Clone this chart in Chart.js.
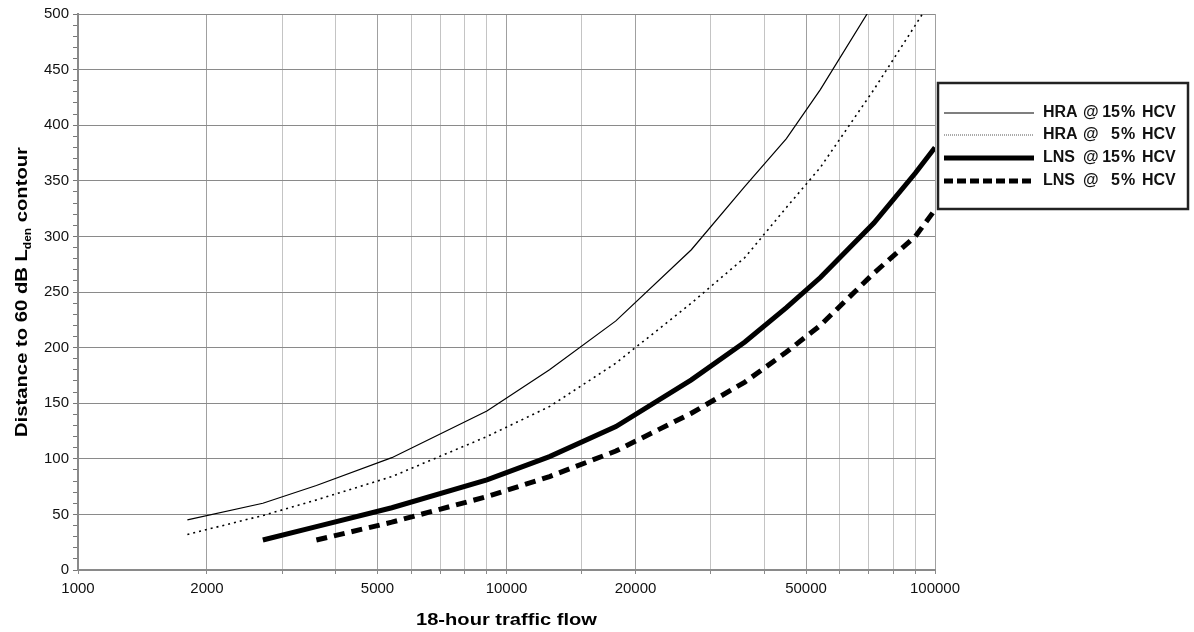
<!DOCTYPE html>
<html>
<head>
<meta charset="utf-8">
<script src="https://cdn.jsdelivr.net/npm/chart.js@4"></script>
<style>
  html, body { margin: 0; padding: 0; background: #fff; }
  #wrap { position: relative; width: 1194px; height: 632px; }
</style>
</head>
<body>
<div id="wrap"><canvas id="chart" width="1194" height="632"></canvas></div>
<script>
// 18-hour traffic flow vs distance to 60 dB Lden contour

const flows = [1800, 2700, 3600, 5400, 9000, 12600, 18000, 27000, 36000, 45000, 54000, 72000, 90000, 100000];

const hra15 = [45, 60, 76, 101, 143, 180, 224, 288, 345, 388, 432, 510, null, null];
const hra5  = [32, 49, 63, 84, 120, 147, 186, 240, 281, 326, 362, 432, 490, 518];
const lns15 = [null, 27, 39, 56, 81, 102, 129, 171, 205, 236, 263, 312, 357, 380];
const lns5  = [null, null, 27, 43, 66, 84, 107, 141, 169, 196, 220, 267, 300, 324];

const seriesNames = ['HRA', 'HRA', 'LNS', 'LNS'];
const seriesPct = ['15', '5', '15', '5'];

const xLabelTicks = [1000, 2000, 5000, 10000, 20000, 50000, 100000];
const yMajorStep = 50;

const pts = arr => flows.map((f, i) => ({x: f, y: arr[i]}));

const styles = [
  {borderWidth: 1.2, borderDash: []},
  {borderWidth: 1.6, borderDash: [2, 4]},
  {borderWidth: 5, borderDash: []},
  {borderWidth: 5, borderDash: [11, 7]}
];
const seriesData = [hra15, hra5, lns15, lns5];

const datasets = seriesData.map((arr, i) => ({
  label: seriesNames[i] + ' @ ' + seriesPct[i] + '% HCV',
  data: pts(arr),
  borderColor: '#000',
  borderWidth: styles[i].borderWidth,
  borderDash: styles[i].borderDash,
  pointRadius: 0,
  tension: 0,
  fill: false,
  spanGaps: false
}));

const FONT = '"Liberation Sans", Arial, sans-serif';

// titles with subscript + boxed legend, drawn on canvas
const decorPlugin = {
  id: 'decor',
  afterDraw(chart) {
    const ctx = chart.ctx;
    const ca = chart.chartArea;
    ctx.save();

    // y title (stretched a little along the text to match the original width)
    ctx.fillStyle = '#000';
    const big = 'bold 17px ' + FONT;
    const small = 'bold 10px ' + FONT;
    const p1 = 'Distance to 60 dB L', p2 = 'den', p3 = ' contour';
    ctx.font = big; const w1 = ctx.measureText(p1).width, w3 = ctx.measureText(p3).width;
    ctx.font = small; const w2 = ctx.measureText(p2).width;
    const total = w1 + w2 + w3;
    ctx.translate(27, (ca.top + ca.bottom) / 2);
    ctx.rotate(-Math.PI / 2);
    ctx.scale(290 / total, 1);
    ctx.textBaseline = 'alphabetic';
    ctx.textAlign = 'left';
    let x0 = -total / 2;
    ctx.font = big; ctx.fillText(p1, x0, 0);
    ctx.font = small; ctx.fillText(p2, x0 + w1, 4);
    ctx.font = big; ctx.fillText(p3, x0 + w1 + w2, 0);
    ctx.restore();

    // x title
    ctx.save();
    ctx.font = big;
    ctx.fillStyle = '#000';
    ctx.textAlign = 'center';
    ctx.textBaseline = 'middle';
    const xt = '18-hour traffic flow';
    const xw = ctx.measureText(xt).width;
    ctx.translate((ca.left + ca.right) / 2, 620);
    ctx.scale(181 / xw, 1);
    ctx.fillText(xt, 0, 0);
    ctx.restore();

    // legend box
    ctx.save();
    const bx = 938, by = 83, bw = 250, bh = 126;
    ctx.strokeStyle = '#222';
    ctx.lineWidth = 2.5;
    ctx.strokeRect(bx, by, bw, bh);
    const rows = [113, 135, 158, 181];
    ctx.font = 'bold 16px ' + FONT;
    ctx.fillStyle = '#111';
    ctx.textBaseline = 'middle';
    datasets.forEach((ds, i) => {
      const y = rows[i];
      ctx.beginPath();
      ctx.setLineDash(ds.borderDash.length ? (ds.borderWidth > 3 ? [9, 4] : [1, 1]) : []);
      ctx.lineWidth = ds.borderWidth === 1.6 ? 1 : ds.borderWidth;
      ctx.strokeStyle = ds.borderWidth === 1.6 ? '#555' : '#000';
      ctx.moveTo(944, y);
      ctx.lineTo(1034, y);
      ctx.stroke();
      ctx.setLineDash([]);
      ctx.textAlign = 'left';
      ctx.fillText(seriesNames[i], 1043, y);
      ctx.fillText('@', 1083, y);
      ctx.textAlign = 'right';
      ctx.fillText(seriesPct[i], 1120, y);
      ctx.textAlign = 'left';
      ctx.fillText('%', 1121, y);
      ctx.fillText('HCV', 1142, y);
    });
    ctx.restore();
  }
};

new Chart(document.getElementById('chart').getContext('2d'), {
  type: 'line',
  data: {datasets},
  plugins: [decorPlugin],
  options: {
    responsive: false,
    animation: false,
    layout: {padding: {top: 14, right: 259, bottom: 0, left: 0}},
    plugins: {legend: {display: false}, tooltip: {enabled: false}},
    scales: {
      x: {
        type: 'logarithmic',
        min: 1000, max: 100000,
        afterFit: s => { s.height = 62; },
        border: {color: '#8a8a8a', width: 2},
        grid: {
          color: ctx => ctx.tick && xLabelTicks.includes(ctx.tick.value) ? '#a0a0a0' : '#c4c4c4',
          lineWidth: 1,
          tickColor: '#8a8a8a',
          tickLength: 4
        },
        ticks: {
          autoSkip: false, maxRotation: 0, padding: 6,
          color: '#111',
          font: {family: FONT, size: 15},
          callback: v => xLabelTicks.includes(v) ? String(v) : ''
        }
      },
      y: {
        min: 0, max: 500,
        afterFit: s => { s.width = 78; },
        border: {color: '#8a8a8a', width: 2},
        grid: {
          color: ctx => ctx.tick && ctx.tick.value % yMajorStep === 0 ? '#8a8a8a' : 'rgba(0,0,0,0)',
          tickColor: '#777',
          tickLength: 5,
          lineWidth: 1
        },
        ticks: {
          stepSize: 10, autoSkip: false, padding: 4,
          color: '#111',
          font: {family: FONT, size: 15},
          callback: v => v % yMajorStep === 0 ? String(v) : ''
        }
      }
    }
  }
});
</script>
</body>
</html>
